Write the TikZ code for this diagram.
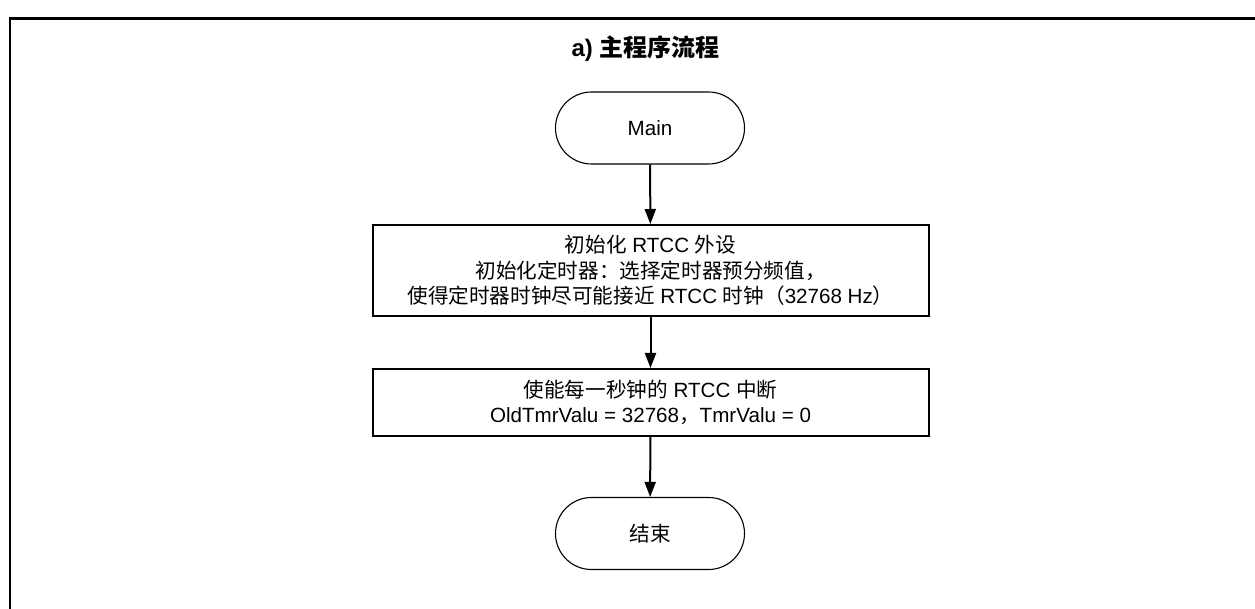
\documentclass[tikz,border=0pt]{standalone}
\usepackage{fontspec}
\setmainfont{Liberation Sans}
\newfontfamily\cjk{Noto Sans CJK SC}
\usetikzlibrary{arrows.meta}
\begin{document}
\begin{tikzpicture}[x=1pt,y=-1pt,
  txt/.style={font=\fontsize{20.6}{25.5}\selectfont, align=center, inner sep=0pt},
  term/.style={txt, draw, line width=1.1pt, rounded corners=36pt, minimum width=189pt, minimum height=72pt},
  procbox/.style={txt, draw, line width=2pt, minimum width=556pt},
  flow/.style={line width=2pt, -{Triangle[length=15pt,width=11pt]}}]
\useasboundingbox (0,0) rectangle (1255,609);
\draw[line width=2.5pt] (10,609) -- (10,18.5) -- (1255,18.5);
\node[txt, font=\fontsize{24}{27}\selectfont\bfseries] (title) at (645.5,49) {a) {\cjk 主程序流程}};
\node[term] (main) at (650,128) {Main};
\node[procbox, minimum height=91pt] (b1) at (650.5,270.5) {{\cjk 初始化} RTCC {\cjk 外设}\\{\cjk 初始化定时器：选择定时器预分频值，}\\{\cjk 使得定时器时钟尽可能接近} RTCC {\cjk 时钟（}32768 Hz{\cjk ）}};
\node[procbox, minimum height=67pt] (b2) at (650.5,402.5) {{\cjk 使能每一秒钟的} RTCC {\cjk 中断}\\OldTmrValu = 32768{\cjk ，}TmrValu = 0};
\node[term] (end) at (650,533.5) {\cjk 结束};
\draw[flow] (main) -- (b1);
\draw[flow] (b1) -- (b2);
\draw[flow] (b2) -- (end);
\end{tikzpicture}
\end{document}
